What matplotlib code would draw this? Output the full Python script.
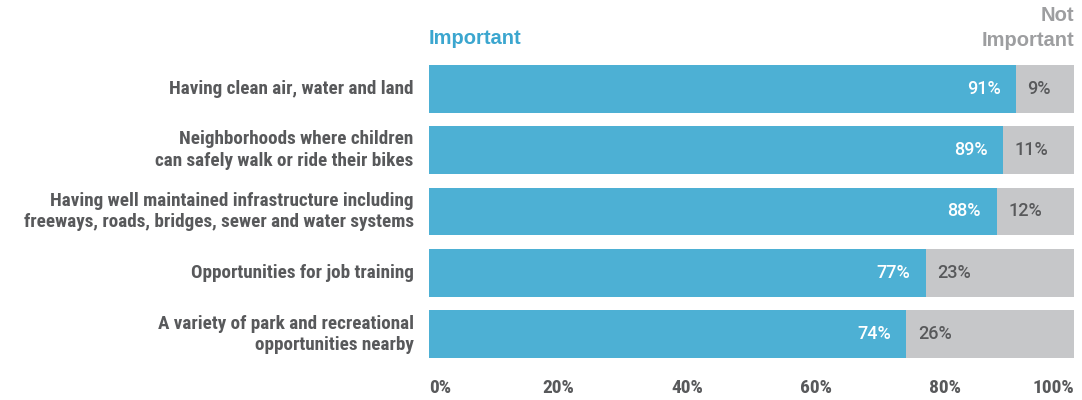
import numpy as np
import matplotlib
matplotlib.use("Agg")
import matplotlib.pyplot as plt

plt.rcParams['font.family'] = ['Roboto Condensed', 'Barlow Semi Condensed', 'DejaVu Sans']
plt.rcParams['font.weight'] = 'bold'
wide_font = ['Roboto', 'DejaVu Sans']
head_font = ['Liberation Sans', 'DejaVu Sans']

# data
categories = [
    "Having clean air, water and land",
    "Neighborhoods where children\ncan safely walk or ride their bikes",
    "Having well maintained infrastructure including\nfreeways, roads, bridges, sewer and water systems",
    "Opportunities for job training",
    "A variety of park and recreational\nopportunities nearby",
]
important = [91, 89, 88, 77, 74]
not_important = [9, 11, 12, 23, 26]
tick_vals = [0, 20, 40, 60, 80, 100]
tick_labels = ["0%", "20%", "40%", "60%", "80%", "100%"]

blue = "#4DB0D4"
grey = "#C6C7C9"
text_col = "#58595B"

W, H = 1082, 400
fig = plt.figure(figsize=(W / 100, H / 100), dpi=100)
ax = fig.add_axes([429 / W, 1 - 365 / H, (1074 - 429) / W, 307 / H])

y = np.arange(len(categories))
ax.barh(y, important, height=0.78, color=blue, linewidth=0)
ax.barh(y, not_important, left=important, height=0.78, color=grey, linewidth=0)

for i in range(len(categories)):
    ax.text(important[i] - 2.4, y[i], f"{important[i]}%", ha='right', va='center',
            color='white', fontsize=13, fontweight='medium', family=wide_font)
    ax.text(important[i] + 1.8, y[i], f"{not_important[i]}%", ha='left', va='center',
            color=text_col, fontsize=13, fontweight='medium', family=wide_font)
    ax.text(-2.4, y[i], categories[i], ha='right', va='center', color=text_col,
            fontsize=13.8, fontweight='bold', linespacing=1.23, multialignment='right')

ax.set_xlim(0, 100)
ax.set_ylim(len(categories) - 0.5, -0.5)
ax.set_yticks([])
ax.set_xticks(tick_vals)
ax.set_xticklabels(tick_labels, fontsize=14, fontweight='bold', color=text_col)
ax.tick_params(axis='x', length=0, pad=10)
labs = ax.get_xticklabels()
labs[0].set_ha('left')
labs[-1].set_ha('right')
for s in ax.spines.values():
    s.set_visible(False)

fig.text(429 / W, 1 - 38 / H, "Important", ha='left', va='center', color="#3BA6CF",
         fontsize=14.5, fontweight='bold', family=head_font)
fig.text(1074 / W, 1 - 28 / H, "Not\nImportant", ha='right', va='center', color="#9D9EA0",
         fontsize=14.5, fontweight='bold', multialignment='right', linespacing=1.4,
         family=head_font)

fig.savefig("out.png", dpi=100)
